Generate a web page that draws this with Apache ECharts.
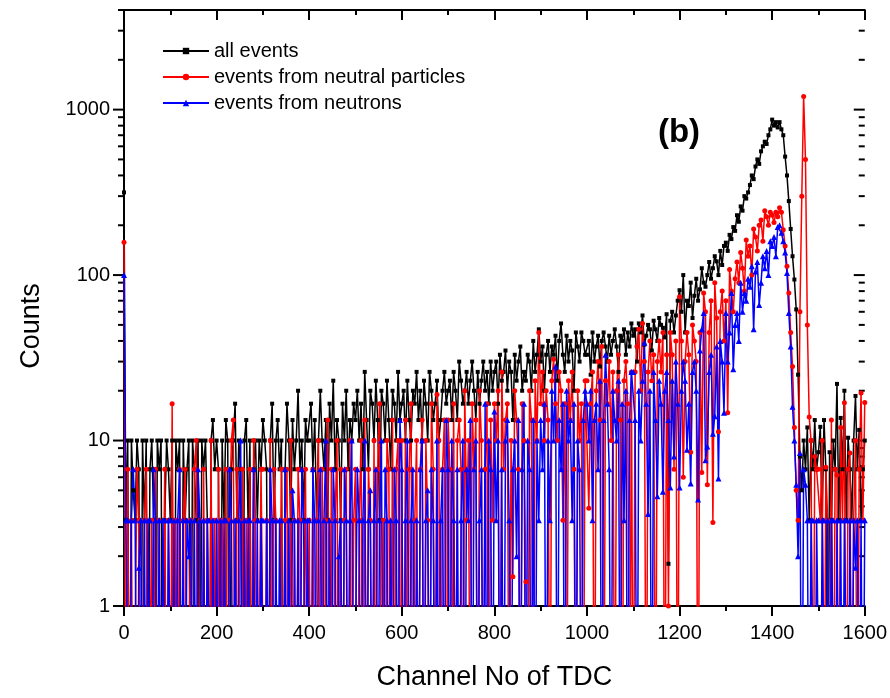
<!DOCTYPE html>
<html>
<head>
<meta charset="utf-8">
<script src="https://cdn.jsdelivr.net/npm/echarts@6/dist/echarts.min.js"></script>
<style>
html, body { margin: 0; padding: 0; background: #fff; }
#chartExample { width: 890px; height: 698px; }
</style>
</head>
<body>
<div id="chartExample"></div>
<script>
// TDC channels: first channel and bin step of the arrays below
var CH_START = 0;
var CH_STEP = 4;

// counts per channel (0 = empty bin), one row = 100 channels
var allEvents = [
    316, 3.3, 10, 0, 10, 5, 3.3, 10, 6.7, 0, 10, 3.3, 10, 0, 6.7, 10, 3.3, 0, 10, 6.7, 10, 0, 3.3, 10, 6.7,
    3.3, 10, 0, 10, 6.7, 10, 0, 10, 3.3, 6.7, 10, 0, 10, 6.7, 3.3, 10, 0, 10, 6.7, 10, 3.3, 0, 10, 13.3, 6.7,
    10, 6.7, 0, 10, 3.3, 13.3, 10, 0, 6.7, 10, 16.7, 3.3, 10, 6.7, 0, 10, 13.3, 3.3, 10, 0, 6.7, 10, 3.3, 10, 6.7,
    13.3, 10, 6.7, 0, 10, 16.7, 3.3, 10, 13.3, 6.7, 10, 0, 6.7, 16.7, 10, 3.3, 13.3, 6.7, 10, 20, 6.7, 10, 3.3, 13.3, 10,
    10, 16.7, 6.7, 13.3, 3.3, 10, 20, 10, 6.7, 13.3, 3.3, 16.7, 10, 23, 6.7, 13.3, 10, 3.3, 16.7, 10, 20, 6.7, 13.3, 10, 16.7,
    13.3, 20, 10, 16.7, 6.7, 26, 13.3, 6.7, 20, 16.7, 10, 23, 13.3, 3.3, 20, 16.7, 10, 23, 13.3, 6.7, 20, 16.7, 10, 26, 13.3,
    16.7, 20, 10, 23, 13.3, 10, 20, 16.7, 26, 13.3, 20, 10, 23, 16.7, 10, 26, 20, 13.3, 16.7, 23, 10, 13.3, 20, 26, 16.7,
    20, 23, 13.3, 26, 20, 13.3, 30, 23, 16.7, 20, 26, 16.7, 23, 30, 20, 13.3, 26, 16.7, 23, 30, 20, 26, 16.7, 30, 20,
    26, 30, 16.7, 33, 23, 26, 35, 20, 30, 26, 13.3, 33, 23, 30, 37, 20, 26, 23, 33, 30, 20, 40, 26, 33, 47,
    30, 37, 20, 33, 40, 26, 37, 33, 43, 23, 40, 51, 33, 26, 43, 30, 40, 35, 20, 45, 37, 30, 45, 40, 33,
    33, 40, 25, 45, 30, 37, 43, 28, 40, 45, 37, 30, 43, 33, 40, 47, 37, 26, 43, 40, 47, 33, 45, 37, 51,
    43, 47, 30, 51, 45, 57, 38, 43, 50, 47, 35, 53, 47, 40, 55, 50, 48, 42, 58, 1.8, 53, 60, 45, 57, 70,
    81, 60, 100, 45, 70, 65, 90, 55, 75, 95, 70, 82, 110, 90, 85, 100, 120, 95, 110, 130, 121, 100, 140, 115, 150,
    157, 140, 175, 165, 195, 185, 230, 210, 260, 245, 300, 290, 316, 350, 400, 380, 453, 500, 470, 560, 600, 640, 620, 700, 760,
    870, 800, 840, 780, 840, 760, 700, 520, 400, 280, 190, 130, 94, 62, 25, 8, 5, 10, 6.7, 12, 3.3, 10, 6.7, 13.3, 6.7,
    8.5, 12.1, 3.3, 13.3, 6.7, 0, 8.5, 3.3, 10, 6.7, 22, 3.3, 13.7, 6.7, 20, 3.3, 10.4, 6.7, 3.3, 10, 18.6, 6.7, 11.6, 3.3, 6.7,
    10
];

var neutralEvents = [
    158, 0, 6.7, 0, 3.3, 0, 0, 6.7, 3.3, 0, 0, 3.3, 6.7, 0, 0, 3.3, 0, 6.7, 0, 3.3, 0, 0, 6.7, 0, 3.3,
    0, 16.7, 0, 3.3, 0, 6.7, 0, 3.3, 6.7, 0, 0, 3.3, 0, 6.7, 10, 0, 3.3, 0, 6.7, 0, 3.3, 0, 10, 0, 3.3,
    0, 6.7, 0, 3.3, 0, 6.7, 0, 3.3, 10, 13.3, 0, 6.7, 3.3, 0, 6.7, 0, 3.3, 0, 6.7, 0, 10, 3.3, 0, 0, 6.7,
    6.7, 0, 3.3, 0, 10, 0, 6.7, 3.3, 0, 0, 6.7, 0, 3.3, 6.7, 0, 10, 0, 3.3, 0, 6.7, 3.3, 0, 0, 6.7, 0,
    3.3, 0, 6.7, 0, 3.3, 10, 0, 6.7, 0, 3.3, 13.3, 0, 6.7, 0, 3.3, 10, 0, 6.7, 0, 3.3, 6.7, 0, 10, 0, 3.3,
    6.7, 0, 3.3, 10, 0, 13.3, 0, 6.7, 3.3, 0, 10, 0, 6.7, 16.7, 0, 3.3, 0, 10, 6.7, 0, 13.3, 0, 6.7, 10, 0,
    10, 0, 13.3, 0, 6.7, 16.7, 0, 3.3, 10, 0, 6.7, 13.3, 0, 10, 3.3, 0, 16.7, 6.7, 0, 19, 10, 0, 6.7, 13.3, 0,
    13.3, 6.7, 0, 16.7, 0, 10, 13.3, 6.7, 0, 20, 3.3, 10, 0, 16.7, 6.7, 13.3, 0, 20, 10, 0, 6.7, 16.7, 0, 13.3, 3.3,
    16.7, 10, 20, 0, 26, 6.7, 13.3, 16.7, 0, 10, 1.5, 20, 13.3, 6.7, 0, 16.7, 10, 1.4, 0, 20, 13.3, 0, 23, 10, 45,
    16.7, 26, 10, 20, 13.3, 0, 23, 31, 16.7, 10, 26, 20, 3.3, 16.7, 0, 23, 13.3, 26, 6.7, 0, 20, 10, 16.7, 0, 23,
    23, 3.9, 16.7, 26, 0, 20, 30, 13.3, 37, 0, 23, 16.7, 30, 10, 26, 0, 20, 33, 13.3, 0, 23, 30, 16.7, 0, 26,
    0, 26, 37, 47, 20, 51, 30, 0, 26, 40, 23, 33, 0, 30, 40, 26, 45, 0, 33, 1.0, 45, 33, 6.7, 40, 0,
    74, 40, 6.0, 30, 45, 33, 8.5, 50, 40, 30, 0, 45, 6.4, 78, 60, 5.4, 45, 70, 3.2, 90, 55, 11.3, 60, 80, 40,
    70, 14.7, 108, 80, 60, 95, 120, 90, 137, 110, 80, 163, 130, 150, 100, 190, 170, 140, 200, 215, 160, 245, 225, 200, 240,
    230, 208, 240, 225, 255, 240, 188, 150, 113, 78, 45, 28, 12, 5, 3.3, 60, 300, 1200, 500, 50, 13.9, 10, 0, 8, 6.7,
    6.7, 3.3, 10, 0, 6.9, 3.3, 0, 13.3, 0, 6.7, 6.2, 0, 12, 3.3, 16.9, 0, 6.7, 8.4, 0, 3.3, 10, 0, 6.7, 19.4, 3.3,
    17
];

var neutronEvents = [
    100, 3.3, 3.3, 0, 3.3, 6.7, 3.3, 0, 1.7, 3.3, 0, 3.3, 0, 3.3, 3.3, 0, 6.7, 3.3, 0, 3.3, 0, 3.3, 3.3, 0, 3.3,
    3.3, 0, 3.3, 0, 3.3, 6.7, 0, 3.3, 0, 3.3, 2, 3.3, 0, 3.3, 0, 6.7, 3.3, 0, 3.3, 0, 3.3, 3.3, 0, 3.3, 0,
    3.3, 0, 3.3, 0, 3.3, 3.3, 0, 6.7, 3.3, 0, 3.3, 0, 3.3, 10, 0, 3.3, 0, 3.3, 3.3, 0, 6.7, 0, 3.3, 0, 3.3,
    3.3, 0, 3.3, 0, 6.7, 3.3, 0, 3.3, 0, 3.3, 3.3, 0, 6.7, 0, 3.3, 0, 5, 3.3, 0, 3.3, 0, 6.7, 3.3, 0, 3.3,
    3.3, 0, 6.7, 3.3, 0, 3.3, 6.7, 0, 3.3, 10, 0, 3.3, 0, 6.7, 3.3, 0, 2, 3.3, 0, 6.7, 3.3, 0, 3.3, 10, 0,
    0, 6.7, 3.3, 0, 3.3, 10, 0, 3.3, 5, 0, 3.3, 6.7, 0, 3.3, 10, 0, 6.7, 3.3, 0, 3.3, 0, 6.7, 3.3, 0, 13.3,
    6.7, 0, 3.3, 10, 0, 3.3, 6.7, 0, 3.3, 0, 6.7, 10, 0, 3.3, 5, 0, 6.7, 3.3, 0, 10, 0, 3.3, 6.7, 0, 13.3,
    6.7, 0, 10, 3.3, 0, 6.7, 0, 3.3, 10, 0, 6.7, 3.3, 13.3, 0, 6.7, 10, 0, 3.3, 6.7, 0, 16.7, 0, 10, 6.7, 0,
    15, 3.3, 10, 0, 6.7, 0, 10, 13.3, 3.3, 0, 6.7, 10, 2, 13.3, 0, 6.7, 16.7, 0, 10, 6.7, 0, 13.3, 0, 10, 3.3,
    13.3, 6.7, 16.7, 0, 10, 3.3, 20, 10, 28, 0, 13.3, 6.7, 16.7, 0, 20, 10, 13.3, 3.3, 16.7, 0, 10, 6.7, 0, 13.3, 20,
    16.7, 10, 20, 3.3, 13.3, 16.7, 6.7, 23, 0, 13.3, 33, 16.7, 6.7, 0, 20, 13.3, 10, 23, 0, 16.7, 3.3, 20, 0, 13.3, 26,
    26, 13.3, 0, 20, 10, 23, 39, 16.7, 3.6, 20, 0, 26, 13.3, 4.6, 23, 16.7, 4.9, 20, 26, 13.3, 5.2, 23, 8, 30, 16.7,
    5.2, 20, 30, 23, 8.8, 16.7, 5.5, 26, 30, 20, 4.4, 35, 47, 59, 7.6, 9.2, 26, 33, 11, 14, 37, 5.9, 40, 30, 14.7,
    59, 30, 45, 78, 27, 50, 59, 40, 90, 60, 78, 70, 95, 85, 113, 47, 105, 120, 66, 90, 130, 110, 140, 100, 160,
    150, 170, 130, 195, 200, 180, 160, 137, 103, 59, 37, 16, 10, 5.4, 2, 8.4, 0, 6.7, 5.4, 3.3, 0, 3.3, 3.3, 0, 3.3,
    3.3, 0, 3.3, 3.3, 0, 3.3, 0, 3.3, 3.3, 0, 3.3, 0, 3.3, 0, 3.3, 3.3, 0, 3.3, 0, 3.3, 1.7, 3.3, 0, 3.3, 0,
    3.3
];

var seriesNames = ['all events', 'events from neutral particles', 'events from neutrons'];
var yTickLabels = [1, 10, 100, 1000];
var X_MIN = 0, X_MAX = 1600, X_INTERVAL = 200;
var Y_MIN = 1, Y_MAX = 4000;

var FONT = 'Liberation Sans, Arial, sans-serif';

// empty bins sit below the log axis floor, the line just drops out of the plot
function toPoints(values) {
    return values.map(function (v, i) {
        return [CH_START + i * CH_STEP, v > 0 ? v : 0.05];
    });
}

function lineSeries(name, values, color, symbol, size) {
    return {
        name: name,
        type: 'line',
        data: toPoints(values),
        symbol: symbol,
        symbolSize: size,
        showAllSymbol: true,
        clip: true,
        sampling: null,
        lineStyle: { color: color, width: 1.5 },
        itemStyle: { color: color },
        emphasis: { disabled: true }
    };
}

var myChart = echarts.init(document.getElementById('chartExample'));

var axisLineStyle = { color: '#000', width: 2 };

var option = {
    animation: false,
    backgroundColor: '#fff',
    grid: { left: 124, right: 25, top: 10, bottom: 92 },
    legend: {
        data: seriesNames,
        orient: 'vertical',
        left: 157,
        top: 36,
        itemWidth: 46,
        itemHeight: 8,
        itemGap: 6,
        selectedMode: false,
        textStyle: { fontSize: 20, fontFamily: FONT, color: '#000' }
    },
    xAxis: [{
        type: 'value',
        min: X_MIN, max: X_MAX, interval: X_INTERVAL,
        position: 'bottom',
        axisLine: { lineStyle: axisLineStyle },
        axisTick: { length: 10, lineStyle: axisLineStyle },
        minorTick: { show: true, splitNumber: 2, length: 5, lineStyle: axisLineStyle },
        axisLabel: {
            fontSize: 20, fontFamily: FONT, color: '#000', margin: 17,
            formatter: function (v) { return String(v); }
        },
        splitLine: { show: false }
    }, {
        type: 'value',
        min: X_MIN, max: X_MAX, interval: X_INTERVAL,
        position: 'top',
        axisLine: { lineStyle: axisLineStyle },
        axisTick: { inside: true, length: 10, lineStyle: axisLineStyle },
        minorTick: { show: true, splitNumber: 2, length: 5, lineStyle: axisLineStyle },
        axisLabel: { show: false },
        splitLine: { show: false }
    }],
    yAxis: [{
        type: 'log',
        logBase: 10,
        min: Y_MIN, max: Y_MAX,
        position: 'left',
        axisLine: { show: true, lineStyle: axisLineStyle },
        axisTick: { show: false },
        axisLabel: {
            fontSize: 20, fontFamily: FONT, color: '#000', margin: 14,
            formatter: function (v) {
                var r = Math.round(v);
                return yTickLabels.indexOf(r) >= 0 ? String(r) : '';
            }
        },
        splitLine: { show: false }
    }, {
        type: 'log',
        logBase: 10,
        min: Y_MIN, max: Y_MAX,
        position: 'right',
        axisLine: { show: true, lineStyle: axisLineStyle },
        axisTick: { show: false },
        axisLabel: { show: false },
        splitLine: { show: false }
    }],
    series: [
        lineSeries(seriesNames[0], allEvents, '#000000', 'rect', 4),
        lineSeries(seriesNames[1], neutralEvents, '#ff0000', 'circle', 5),
        lineSeries(seriesNames[2], neutronEvents, '#0000ff', 'triangle', 6)
    ]
};
myChart.setOption(option);

// log ticks 1..9 per decade on left (outward) and right (inward), placed by the axis scale
var xLeft = myChart.convertToPixel({ xAxisIndex: 0 }, X_MIN);
var xRight = myChart.convertToPixel({ xAxisIndex: 0 }, X_MAX);
var yBottom = myChart.convertToPixel({ yAxisIndex: 0 }, Y_MIN);
var yTop = myChart.convertToPixel({ yAxisIndex: 0 }, Y_MAX);
var graphics = [];
for (var d = 1; d <= 1000; d *= 10) {
    for (var m = 1; m <= 9; m++) {
        var v = m * d;
        if (v > Y_MAX) break;
        var py = myChart.convertToPixel({ yAxisIndex: 0 }, v);
        var len = m === 1 ? 11 : 6;
        graphics.push({ type: 'line', silent: true, shape: { x1: xLeft - len, y1: py, x2: xLeft, y2: py }, style: { stroke: '#000', lineWidth: 2 } });
        graphics.push({ type: 'line', silent: true, shape: { x1: xRight - len, y1: py, x2: xRight, y2: py }, style: { stroke: '#000', lineWidth: 2 } });
    }
}
graphics.push({
    type: 'text', silent: true,
    x: 32, y: (yTop + yBottom) / 2 + 18, rotation: Math.PI / 2,
    style: { text: 'Counts', font: '27px ' + FONT, fill: '#000', align: 'center', verticalAlign: 'middle' }
});
graphics.push({
    type: 'text', silent: true,
    x: (xLeft + xRight) / 2, y: 678,
    style: { text: 'Channel No of TDC', font: '27px ' + FONT, fill: '#000', align: 'center', verticalAlign: 'middle' }
});
graphics.push({
    type: 'text', silent: true,
    x: 679, y: 133,
    style: { text: '(b)', font: 'bold 33px ' + FONT, fill: '#000', align: 'center', verticalAlign: 'middle' }
});
myChart.setOption({ graphic: graphics });
</script>
</body>
</html>
